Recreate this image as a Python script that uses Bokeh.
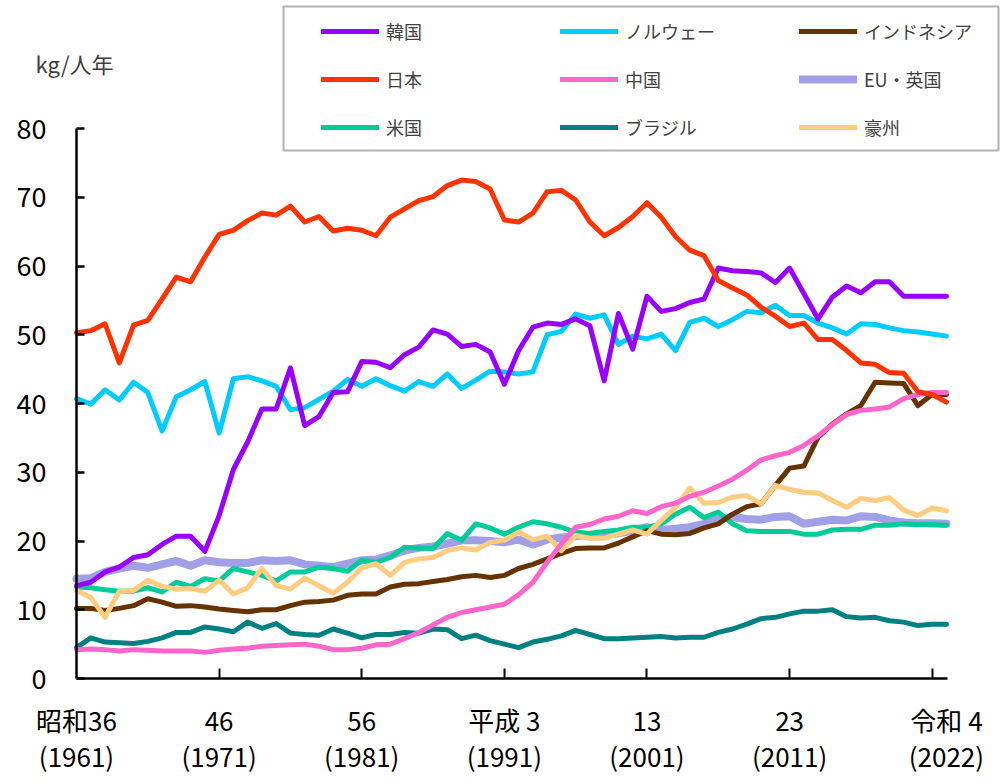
from bokeh.plotting import figure
from bokeh.models import (Range1d, LinearAxis, FixedTicker, Legend, LegendItem,
                          BoxAnnotation, Label)
from bokeh.embed import file_html
from bokeh.resources import INLINE

years = list(range(1961, 2023))

korea = [13.5, 14.0, 15.5, 16.2, 17.6, 18.0, 19.5, 20.7, 20.7, 18.5,
         23.7, 30.4, 34.4, 39.2, 39.2, 45.2, 36.8, 38.1, 41.6, 41.7,
         46.1, 46.0, 45.2, 47.1, 48.2, 50.7, 50.1, 48.3, 48.6, 47.5,
         42.8, 47.7, 51.1, 51.7, 51.5, 52.3, 51.3, 43.3, 53.1, 47.9,
         55.6, 53.4, 53.8, 54.7, 55.2, 59.7, 59.3, 59.2, 59.0, 57.6,
         59.7, 56.0, 52.3, 55.5, 57.1, 56.1, 57.7, 57.7, 55.6, 55.6,
         55.6, 55.6]
japan = [50.3, 50.6, 51.6, 45.9, 51.4, 52.1, 55.2, 58.4, 57.7, 61.3,
         64.6, 65.2, 66.6, 67.7, 67.4, 68.7, 66.4, 67.2, 65.1, 65.5,
         65.2, 64.4, 67.1, 68.3, 69.5, 70.1, 71.7, 72.5, 72.3, 71.2,
         66.7, 66.4, 67.7, 70.8, 71.0, 69.6, 66.4, 64.4, 65.6, 67.2,
         69.2, 67.1, 64.3, 62.3, 61.5, 57.9, 56.8, 55.8, 54.0, 52.7,
         51.2, 51.7, 49.3, 49.3, 47.7, 45.9, 45.7, 44.5, 44.4, 41.7,
         41.3, 40.2]
usa = [13.3, 13.2, 12.9, 12.7, 12.7, 13.2, 12.6, 14.0, 13.4, 14.5,
       14.2, 16.0, 15.5, 15.0, 14.2, 15.5, 15.5, 16.2, 16.0, 15.6,
       17.2, 16.9, 17.6, 19.1, 19.0, 18.9, 21.1, 20.1, 22.5, 21.9,
       21.0, 22.0, 22.8, 22.5, 22.0, 21.3, 21.1, 21.4, 21.6, 22.0,
       22.0, 22.5, 23.9, 24.9, 23.4, 24.2, 22.5, 21.5, 21.4, 21.4,
       21.4, 21.0, 21.0, 21.6, 21.7, 21.7, 22.3, 22.3, 22.5, 22.4,
       22.4, 22.3]
norway = [40.7, 39.9, 42.0, 40.5, 43.1, 41.6, 36.0, 41.0, 42.0, 43.2,
          35.7, 43.6, 43.9, 43.3, 42.5, 39.1, 39.4, 40.6, 41.8, 43.5,
          42.5, 43.6, 42.6, 41.8, 43.2, 42.5, 44.3, 42.2, 43.4, 44.7,
          44.6, 44.3, 44.6, 50.0, 50.5, 53.0, 52.4, 52.9, 48.6, 49.8,
          49.4, 50.1, 47.7, 51.8, 52.4, 51.2, 52.2, 53.4, 53.2, 54.3,
          52.8, 52.8, 51.7, 51.0, 50.1, 51.6, 51.5, 51.0, 50.6, 50.4,
          50.1, 49.8]
china = [4.2, 4.3, 4.2, 4.0, 4.2, 4.1, 4.0, 4.0, 4.0, 3.8,
         4.1, 4.3, 4.4, 4.7, 4.8, 4.9, 5.0, 4.7, 4.2, 4.2,
         4.4, 4.9, 5.0, 5.8, 6.7, 7.8, 8.9, 9.6, 10.0, 10.4,
         10.8, 12.2, 14.0, 16.9, 19.6, 22.0, 22.4, 23.2, 23.6, 24.4,
         24.0, 25.0, 25.5, 26.5, 27.1, 28.0, 29.0, 30.3, 31.8, 32.4,
         32.9, 33.9, 35.3, 36.9, 38.4, 39.0, 39.2, 39.5, 40.7, 41.3,
         41.6, 41.6]
brazil = [4.5, 5.9, 5.3, 5.2, 5.1, 5.4, 5.9, 6.7, 6.7, 7.5,
          7.2, 6.8, 8.2, 7.3, 8.0, 6.6, 6.4, 6.3, 7.2, 6.6,
          5.9, 6.4, 6.4, 6.7, 6.6, 7.2, 7.1, 5.8, 6.3, 5.5,
          5.0, 4.5, 5.3, 5.7, 6.2, 7.0, 6.4, 5.8, 5.8, 5.9,
          6.0, 6.1, 5.9, 6.0, 6.0, 6.7, 7.2, 7.9, 8.7, 8.9,
          9.4, 9.8, 9.8, 10.0, 9.0, 8.8, 8.9, 8.4, 8.2, 7.7,
          7.9, 7.9]
indonesia = [10.2, 10.2, 9.9, 10.2, 10.6, 11.6, 11.1, 10.5, 10.6, 10.4,
             10.1, 9.9, 9.7, 10.0, 10.0, 10.6, 11.1, 11.2, 11.4, 12.1,
             12.3, 12.3, 13.3, 13.7, 13.8, 14.1, 14.4, 14.8, 15.0, 14.7,
             15.0, 16.0, 16.6, 17.4, 18.2, 18.9, 19.0, 19.0, 19.7, 20.6,
             21.5, 21.0, 20.9, 21.1, 21.9, 22.5, 23.9, 25.0, 25.4, 28.1,
             30.6, 30.9, 35.1, 37.0, 38.5, 39.7, 43.1, 43.0, 42.9, 39.7,
             41.3, 41.3]
eu_uk = [14.5, 14.6, 15.5, 16.0, 16.4, 16.1, 16.6, 17.1, 16.4, 17.2,
         16.9, 16.8, 16.8, 17.2, 17.1, 17.2, 16.6, 16.4, 16.2, 16.7,
         17.2, 17.3, 17.9, 18.6, 19.0, 19.2, 19.6, 20.1, 20.1, 20.0,
         19.8, 20.2, 19.5, 20.2, 20.5, 20.7, 20.9, 20.9, 21.1, 21.5,
         22.0, 21.6, 21.8, 22.0, 22.5, 23.2, 23.5, 23.2, 23.1, 23.5,
         23.6, 22.5, 22.8, 23.1, 23.0, 23.6, 23.5, 23.0, 22.7, 22.6,
         22.6, 22.5]
australia = [12.8, 11.8, 8.9, 12.7, 12.8, 14.3, 13.4, 13.0, 13.1, 12.7,
             14.3, 12.3, 13.2, 16.0, 13.5, 13.0, 14.6, 13.5, 12.4, 14.0,
             16.1, 16.7, 15.0, 16.9, 17.4, 17.6, 18.6, 19.0, 18.7, 19.8,
             20.1, 21.3, 20.2, 20.7, 18.6, 20.8, 20.4, 20.4, 21.0, 21.6,
             21.0, 23.0, 24.9, 27.7, 25.5, 25.6, 26.4, 26.6, 25.4, 28.1,
             27.5, 27.1, 27.0, 25.9, 24.9, 26.2, 25.9, 26.3, 24.5, 23.7,
             24.8, 24.4]

names = ["韓国", "日本", "米国", "ノルウェー", "中国", "ブラジル", "インドネシア", "EU・英国", "豪州"]
values = [korea, japan, usa, norway, china, brazil, indonesia, eu_uk, australia]
colors = ["#9900FF", "#FF3300", "#00CC99", "#00CCFF", "#FF66CC", "#008080", "#663300", "#9C9AE4", "#FFCC80"]

y_ticks = [0, 10, 20, 30, 40, 50, 60, 70, 80]
label_years = [1961, 1971, 1981, 1991, 2001, 2011, 2022]
tick_years = [1971, 1981, 1991, 2001, 2011, 2021]
era_labels = ["昭和36", "46", "56", "平成 3", "13", "23", "令和 4"]
year_labels = ["(1961)", "(1971)", "(1981)", "(1991)", "(2001)", "(2011)", "(2022)"]

FONT = "Noto Sans CJK JP"

p = figure(width=1000, height=782, x_range=Range1d(1955.67, 2025.79), y_range=Range1d(-15.127, 98.62),
           output_backend="svg", toolbar_location=None, x_axis_type=None, y_axis_type=None,
           min_border_left=0, min_border_right=0, min_border_top=0, min_border_bottom=0)
p.outline_line_color = None
p.grid.visible = False

# draw order: EU first (underneath)
order = [7, 5, 2, 6, 8, 4, 3, 0, 1]
renderers = {}
for i in order:
    w = 8 if i == 7 else 5
    r = p.line(years, values[i], line_color=colors[i], line_width=w,
               line_alpha=0.95 if i == 7 else 1.0, line_join="round", line_cap="round")
    renderers[i] = r

yaxis = LinearAxis(ticker=FixedTicker(ticks=y_ticks), bounds=(0, 80), fixed_location=1961,
                   major_tick_in=8, major_tick_out=0, minor_tick_in=0, minor_tick_out=0,
                   axis_line_width=2.5, major_tick_line_width=2.5, major_label_standoff=30,
                   major_label_text_font=FONT, major_label_text_font_size="27px",
                   major_label_text_color="black")
p.add_layout(yaxis, "left")

xaxis1 = LinearAxis(ticker=FixedTicker(ticks=label_years, minor_ticks=tick_years),
                    bounds=(1961, 2022.1), fixed_location=0,
                    major_label_overrides={y: t for y, t in zip(label_years, era_labels)},
                    major_tick_in=0, major_tick_out=0, minor_tick_in=10, minor_tick_out=0,
                    minor_tick_line_width=2, minor_tick_line_color="black",
                    axis_line_width=2.5, major_label_standoff=22,
                    major_label_text_font=FONT, major_label_text_font_size="26px",
                    major_label_text_color="black")
p.add_layout(xaxis1, "below")

xaxis2 = LinearAxis(ticker=FixedTicker(ticks=label_years, minor_ticks=[]),
                    fixed_location=-6,
                    major_label_overrides={y: t for y, t in zip(label_years, year_labels)},
                    axis_line_color=None, major_tick_in=0, major_tick_out=0,
                    minor_tick_in=0, minor_tick_out=0, major_label_standoff=17,
                    major_label_text_font=FONT, major_label_text_font_size="26px",
                    major_label_text_color="black")
p.add_layout(xaxis2, "below")

# legend frame
box = BoxAnnotation(left=283, right=998, top=776, bottom=632,
                    left_units="screen", right_units="screen", top_units="screen", bottom_units="screen",
                    fill_alpha=0, line_color="black", line_width=2, level="overlay")
p.add_layout(box)

col_x = [321, 560, 799]
for c in range(3):
    items = [LegendItem(label=names[c * 3 + k], renderers=[renderers[c * 3 + k]]) for k in range(3)]
    leg = Legend(items=items, location=(col_x[c], 631), orientation="vertical",
                 glyph_width=58, glyph_height=48, label_height=48, label_standoff=7,
                 spacing=0, padding=0, margin=0, border_line_color=None,
                 background_fill_alpha=0, label_text_font=FONT, label_text_font_size="18px",
                 label_text_color="#404040")
    p.add_layout(leg)

ylab = Label(x=35, y=720, x_units="screen", y_units="screen", text="kg/人年",
             text_font=FONT, text_font_size="22px", text_color="#404040", text_baseline="middle")
p.add_layout(ylab)

open("out.html", "w").write(file_html(p, INLINE))
